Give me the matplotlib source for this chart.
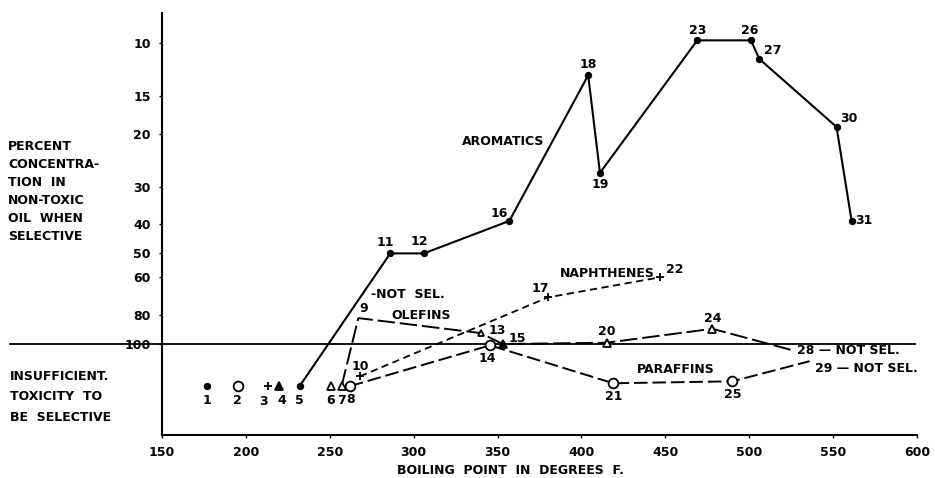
import matplotlib
matplotlib.use('Agg')
import matplotlib.pyplot as plt
from matplotlib.ticker import NullLocator

# plotting level used for "insufficient toxicity to be selective"
INSUFF = 138

# aromatics (solid line)
arom_ids = [5, 11, 12, 16, 18, 19, 23, 26, 27, 30, 31]
arom_bp = [232, 286, 306, 357, 404, 411, 469, 501, 506, 552, 561]
arom_pct = [INSUFF, 50, 50, 39, 12.8, 27, 9.8, 9.8, 11.3, 19, 39]

# olefins
olef_ids = [7, 9, 13, 15, 20, 24, 28]
olef_bp = [257, 267, 340, 353, 415, 478, 526]
olef_pct = [INSUFF, 82, 92, 100, 99, 89, 105]

# paraffins
par_ids = [8, 14, 21, 25, 29]
par_bp = [262, 345.5, 419, 490, 536]
par_pct = [INSUFF, 101, 135, 133, 114]

# naphthenes
naph_ids = [10, 17, 22]
naph_bp = [268, 380, 447]
naph_pct = [128, 70, 60]

# unconnected points
lone_ids = [1, 2, 3, 4, 6]
lone_bp = [177, 195, 213, 220, 251]
lone_pct = [INSUFF] * 5

yticks = [10, 15, 20, 30, 40, 50, 60, 80, 100]
xticks = [150, 200, 250, 300, 350, 400, 450, 500, 550, 600]

# marker per point number: (marker, face, size)
dot = ('o', 'k', 4)
ring = ('o', 'w', 7)
tri_o = ('^', 'w', 6)
tri_f = ('^', 'k', 6)
plus = ('+', 'k', 6)
mstyle = {1: dot, 2: ring, 3: plus, 4: tri_f, 6: tri_o, 7: tri_o, 13: ('^', 'w', 4),
          15: tri_f, 20: tri_o, 24: tri_o, 8: ring, 14: ring, 21: ring, 25: ring,
          10: plus, 17: plus, 22: plus}
for i in arom_ids:
    mstyle[i] = dot

# label offsets in pixels
offs = {1: (0, -14), 2: (0, -14), 3: (-4, -15), 4: (2, -14), 5: (0, -14),
        6: (-1, -14), 7: (0, -14), 8: (1, -13), 9: (5, 10), 10: (0, 10),
        11: (-5, 11), 12: (-4, 12), 13: (16, 3), 14: (-3, -13), 15: (15, 6),
        16: (-10, 7), 17: (-8, 9), 18: (0, 11), 19: (0, -12), 20: (0, 11),
        21: (0, -13), 22: (14, 8), 23: (0, 10), 24: (0, 10), 25: (0, -13),
        26: (-1, 10), 27: (13, 8), 30: (12, 8), 31: (12, 0)}

plt.rcParams['font.family'] = 'DejaVu Sans'
plt.rcParams['font.weight'] = 'bold'

fig = plt.figure(figsize=(9.35, 4.78), dpi=100)
ax = fig.add_axes([0.1733, 0.0900, 0.8075, 0.8828])

ax.plot(arom_bp, arom_pct, '-', color='k', lw=1.5)
ax.plot(olef_bp, olef_pct, color='k', lw=1.4, linestyle=(0, (9, 2.5)))
ax.plot(par_bp, par_pct, color='k', lw=1.4, linestyle=(0, (7, 2.5)))
ax.plot(naph_bp, naph_pct, color='k', lw=1.3, linestyle=(0, (4, 2.5)))

# the 100 % line runs out into the label margin
ax.axhline(100, xmin=-0.201, xmax=0.997, color='k', lw=1.3, clip_on=False)

all_ids = arom_ids + olef_ids + par_ids + naph_ids + lone_ids
all_bp = arom_bp + olef_bp + par_bp + naph_bp + lone_bp
all_pct = arom_pct + olef_pct + par_pct + naph_pct + lone_pct
for i, x, y in zip(all_ids, all_bp, all_pct):
    if i in mstyle:
        m, fc, s = mstyle[i]
        ax.plot(x, y, marker=m, ms=s, mfc=fc, mec='k', mew=1.3, color='k',
                clip_on=False, zorder=3)
    if i in offs:
        ax.annotate(str(i), (x, y), xytext=offs[i], textcoords='offset pixels',
                    ha='center', va='center', fontsize=9, fontweight='bold')

# end labels
ax.annotate('28 \u2014 NOT SEL.', (olef_bp[-1], olef_pct[-1]), xytext=(4, 0),
            textcoords='offset pixels', ha='left', va='center', fontsize=9)
ax.annotate('29 \u2014 NOT SEL.', (par_bp[-1], par_pct[-1]), xytext=(5, -7),
            textcoords='offset pixels', ha='left', va='center', fontsize=9)
ax.annotate('-NOT  SEL.', (olef_bp[1], olef_pct[1]), xytext=(13, 24),
            textcoords='offset pixels', ha='left', va='center', fontsize=9)

ax.text(353.5, 21.3, 'AROMATICS', ha='center', va='center', fontsize=9)
ax.text(415.5, 58.1, 'NAPHTHENES', ha='center', va='center', fontsize=9)
ax.text(304.7, 80.2, 'OLEFINS', ha='center', va='center', fontsize=9)
ax.text(456.2, 121.9, 'PARAFFINS', ha='center', va='center', fontsize=9)

ax.set_yscale('log')
ax.set_ylim(200.5, 7.95)
ax.set_xlim(150, 600)
ax.set_yticks(yticks)
ax.set_yticklabels([str(v) for v in yticks])
ax.yaxis.set_minor_locator(NullLocator())
ax.set_xticks(xticks)
ax.tick_params(length=2, width=1, labelsize=9, pad=6)

for s in ['top', 'right']:
    ax.spines[s].set_visible(False)
for s in ['left', 'bottom']:
    ax.spines[s].set_linewidth(1.5)

fig.text(8 / 935, 1 - 140 / 478,
         'PERCENT\nCONCENTRA-\nTION  IN\nNON-TOXIC\nOIL  WHEN\nSELECTIVE',
         ha='left', va='top', fontsize=9, linespacing=1.5)
fig.text(10 / 935, 1 - 370 / 478, 'INSUFFICIENT.\nTOXICITY  TO\nBE  SELECTIVE',
         ha='left', va='top', fontsize=9, linespacing=1.75)
fig.text(510 / 935, 1 - 470 / 478, 'BOILING  POINT  IN  DEGREES  F.',
         ha='center', va='center', fontsize=9)

fig.savefig('out.png', dpi=100)
